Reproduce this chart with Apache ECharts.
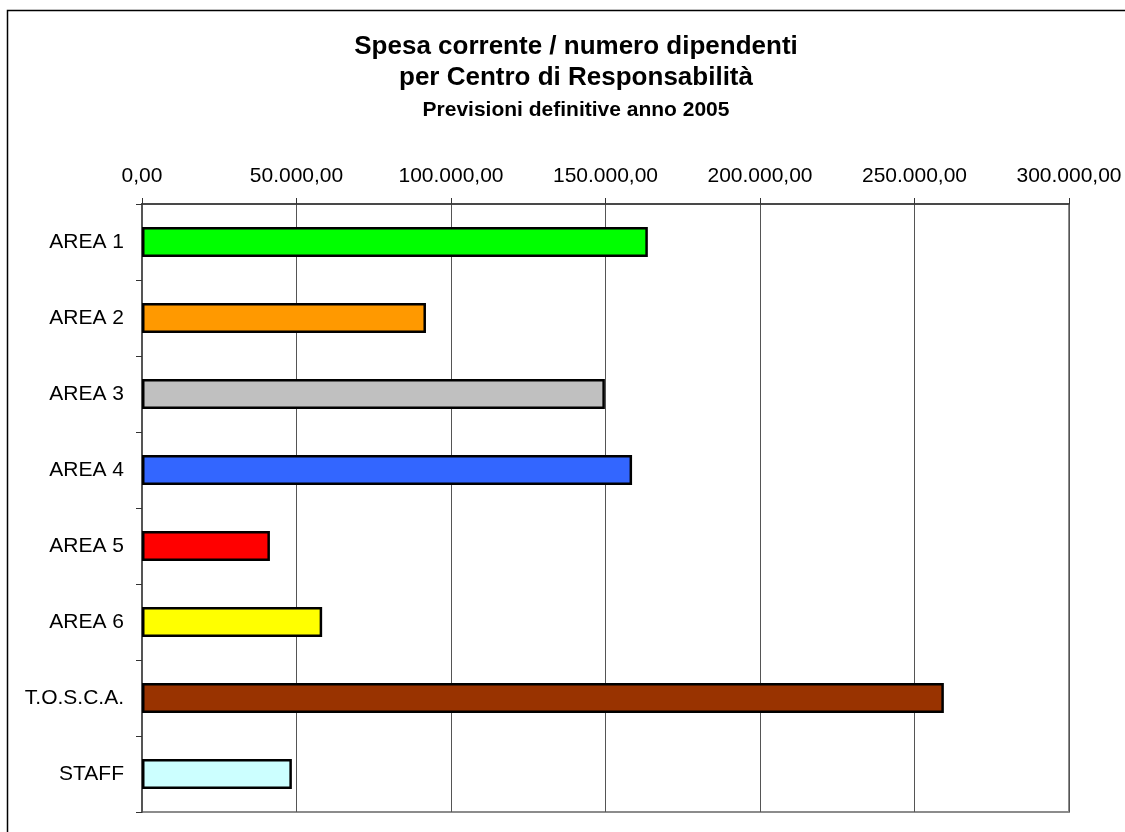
<!DOCTYPE html>
<html>
<head>
<meta charset="utf-8">
<script src="https://cdn.jsdelivr.net/npm/echarts@6/dist/echarts.min.js"></script>
<style>
  html, body { margin: 0; padding: 0; background: #fff; }
  #chart { width: 1125px; height: 832px; }
</style>
</head>
<body>
<div id="chart"></div>
<script>
// Centri di responsabilità (top to bottom)
const categories = ['AREA 1', 'AREA 2', 'AREA 3', 'AREA 4', 'AREA 5', 'AREA 6', 'T.O.S.C.A.', 'STAFF'];
// Spesa corrente per dipendente (euro)
const values = [163700, 91900, 149800, 158600, 41400, 58300, 259500, 48500];
// Fill colour of each bar
const barColors = ['#00ff00', '#ff9900', '#c0c0c0', '#3366ff', '#ff0000', '#ffff00', '#993300', '#ccffff'];
// Value axis range
const axisMin = 0;
const axisMax = 300000;
const axisStep = 50000;

const FONT = '"Liberation Sans", Arial, Helvetica, sans-serif';

// Italian number format: 50.000,00
function fmtIt(v) {
  const parts = Number(v).toFixed(2).split('.');
  parts[0] = parts[0].replace(/\B(?=(\d{3})+(?!\d))/g, '.');
  return parts.join(',');
}

const chart = echarts.init(document.getElementById('chart'), null, { renderer: 'canvas' });

chart.setOption({
  backgroundColor: '#ffffff',
  animation: false,
  title: [
    {
      text: 'Spesa corrente / numero dipendenti\nper Centro di Responsabilità',
      left: 571, top: 26, textAlign: 'center',
      textStyle: { fontFamily: FONT, fontSize: 26, fontWeight: 'bold', color: '#000', lineHeight: 31 }
    },
    {
      text: 'Previsioni definitive anno 2005',
      left: 571, top: 95, textAlign: 'center',
      textStyle: { fontFamily: FONT, fontSize: 21, fontWeight: 'bold', color: '#000' }
    }
  ],
  graphic: [
    {
      type: 'rect', silent: true, z: -1,
      shape: { x: 7.5, y: 10.5, width: 1200, height: 900 },
      style: { fill: 'none', stroke: '#000', lineWidth: 1.5 }
    }
  ],
  grid: {
    left: 142, right: 56, top: 204, bottom: 20,
    show: true, borderColor: '#8c8c8c', borderWidth: 2, backgroundColor: 'transparent'
  },
  xAxis: {
    type: 'value',
    position: 'top',
    min: axisMin, max: axisMax, interval: axisStep,
    axisLine: { show: true, lineStyle: { color: '#333', width: 1.5 } },
    axisTick: { show: true, length: 6, lineStyle: { color: '#333' } },
    splitLine: { show: true, lineStyle: { color: '#555', width: 1 } },
    axisLabel: {
      margin: 17, color: '#000', fontFamily: FONT, fontSize: 21,
      formatter: fmtIt
    }
  },
  yAxis: {
    type: 'category',
    data: categories,
    inverse: true,
    axisLine: { show: true, lineStyle: { color: '#555', width: 2 } },
    axisTick: { show: true, length: 6, lineStyle: { color: '#333' } },
    axisLabel: { margin: 18, color: '#000', fontFamily: FONT, fontSize: 21 }
  },
  series: [{
    type: 'bar',
    data: values.map((v, i) => ({ value: v, itemStyle: { color: barColors[i] } })),
    barWidth: 30,
    itemStyle: { borderColor: '#000', borderWidth: 2.5 }
  }]
});
</script>
</body>
</html>
